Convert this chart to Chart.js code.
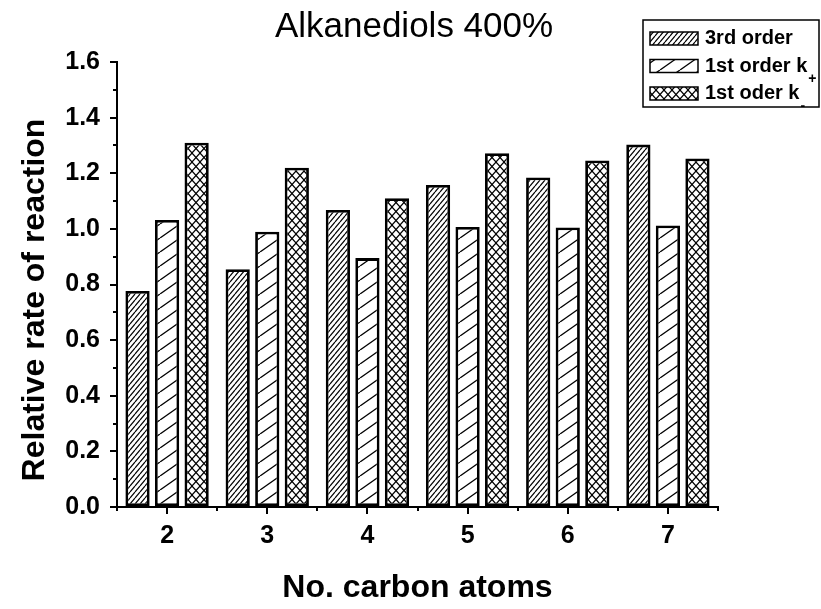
<!DOCTYPE html>
<html>
<head>
<meta charset="utf-8">
<script src="https://cdn.jsdelivr.net/npm/chart.js@4.4.1/dist/chart.umd.min.js"></script>
<style>
  html, body { margin: 0; padding: 0; background: #fff; }
  canvas { display: block; }
</style>
</head>
<body>
<canvas id="c" width="821" height="609"></canvas>
<script>
// ---- data ----
const categories = ['2', '3', '4', '5', '6', '7'];
const thirdOrder = [0.777, 0.855, 1.068, 1.158, 1.185, 1.303];
const firstOrderKPlus = [1.032, 0.99, 0.895, 1.007, 1.005, 1.012];
const firstOrderKMinus = [1.31, 1.22, 1.11, 1.272, 1.246, 1.253];
const seriesLabels = ['3rd order', '1st order k', '1st oder k'];
const seriesSubscripts = ['', '+', '-'];
const yTickValues = [0, 0.2, 0.4, 0.6, 0.8, 1.0, 1.2, 1.4, 1.6];
const yMinorValues = [0.1, 0.3, 0.5, 0.7, 0.9, 1.1, 1.3, 1.5];
const titleText = 'Alkanediols 400%';
const xTitle = 'No. carbon atoms';
const yTitle = 'Relative rate of reaction';

const FONT = '"Liberation Sans", Arial, sans-serif';

function makePattern(kind) {
  const c = document.createElement('canvas');
  let w, h, lw;
  if (kind === 'dense') { w = 5; h = 6; lw = 1.2; }
  else if (kind === 'sparse') { w = 20; h = 14; lw = 1.3; }
  else { w = 8; h = 9; lw = 1.2; }
  c.width = w; c.height = h;
  const g = c.getContext('2d');
  g.fillStyle = '#fff'; g.fillRect(0, 0, w, h);
  g.strokeStyle = '#000'; g.lineWidth = lw;
  for (let i = -1; i <= 1; i++) {
    g.beginPath(); g.moveTo(i * w, h); g.lineTo(i * w + w, 0); g.stroke();
    if (kind === 'cross') {
      g.beginPath(); g.moveTo(i * w, 0); g.lineTo(i * w + w, h); g.stroke();
    }
  }
  return g.createPattern(c, 'repeat');
}
const patterns = [makePattern('dense'), makePattern('sparse'), makePattern('cross')];

const extras = {
  id: 'extras',
  afterDraw(chart) {
    const ctx = chart.ctx;
    const xs = chart.scales.x, ys = chart.scales.y;
    const area = chart.chartArea;
    ctx.save();
    ctx.strokeStyle = '#000';
    ctx.lineWidth = 2;
    // y minor ticks
    yMinorValues.forEach(v => {
      const y = Math.round(ys.getPixelForValue(v));
      ctx.beginPath(); ctx.moveTo(area.left, y); ctx.lineTo(area.left - 4, y); ctx.stroke();
    });
    // x minor ticks at category boundaries
    for (let i = 0; i <= categories.length; i++) {
      const x = Math.round(xs.getPixelForValue(i - 0.5));
      ctx.beginPath(); ctx.moveTo(x, area.bottom); ctx.lineTo(x, area.bottom + 4); ctx.stroke();
    }
    ctx.fillStyle = '#000';
    // title
    ctx.font = '35px ' + FONT;
    ctx.textAlign = 'center'; ctx.textBaseline = 'alphabetic';
    ctx.fillText(titleText, 414, 37);
    // x title
    ctx.font = 'bold 32px ' + FONT;
    ctx.fillText(xTitle, (area.left + area.right) / 2, 597);
    // y title
    ctx.save();
    ctx.translate(44, 300);
    ctx.rotate(-Math.PI / 2);
    ctx.textBaseline = 'alphabetic';
    ctx.fillText(yTitle, 0, 0);
    ctx.restore();

    // legend
    const lx = 643, ly = 20, lw = 176, lh = 87;
    ctx.fillStyle = '#fff';
    ctx.fillRect(lx, ly, lw, lh);
    ctx.lineWidth = 1.5;
    ctx.strokeRect(lx, ly, lw, lh);
    const rows = [38.5, 66, 93.5];
    chart.data.datasets.forEach((ds, i) => {
      const cy = rows[i];
      ctx.fillStyle = ds.backgroundColor;
      ctx.fillRect(650, cy - 6.5, 48, 13);
      ctx.lineWidth = 1.5;
      ctx.strokeStyle = '#000';
      ctx.strokeRect(650, cy - 6.5, 48, 13);
      ctx.fillStyle = '#000';
      ctx.font = 'bold 20px ' + FONT;
      ctx.textAlign = 'left'; ctx.textBaseline = 'middle';
      ctx.fillText(seriesLabels[i], 705, cy);
      if (seriesSubscripts[i]) {
        const w = ctx.measureText(seriesLabels[i]).width;
        ctx.font = 'bold 14px ' + FONT;
        ctx.fillText(seriesSubscripts[i], 705 + w + 1, cy + 13);
      }
    });
    ctx.restore();
  }
};

new Chart(document.getElementById('c'), {
  type: 'bar',
  data: {
    labels: categories,
    datasets: [
      { label: seriesLabels[0] + seriesSubscripts[0], data: thirdOrder, backgroundColor: patterns[0] },
      { label: seriesLabels[1] + seriesSubscripts[1], data: firstOrderKPlus, backgroundColor: patterns[1] },
      { label: seriesLabels[2] + seriesSubscripts[2], data: firstOrderKMinus, backgroundColor: patterns[2] }
    ].map(d => Object.assign(d, {
      borderColor: '#000', borderWidth: 2.8, borderSkipped: false,
      categoryPercentage: 0.885, barPercentage: 0.82
    }))
  },
  options: {
    responsive: false,
    animation: false,
    layout: { padding: { top: 62, right: 103, bottom: 0, left: 0 } },
    plugins: { legend: { display: false }, tooltip: { enabled: false }, title: { display: false } },
    scales: {
      x: {
        type: 'category',
        offset: true,
        grid: { display: true, offset: false, drawOnChartArea: false, drawTicks: true, tickLength: 7, color: '#000', lineWidth: 2 },
        border: { display: true, color: '#000', width: 2 },
        ticks: { color: '#000', font: { family: FONT, size: 25, weight: 'bold' }, padding: 7, maxRotation: 0 },
        afterFit(s) { s.height = 102; }
      },
      y: {
        min: 0, max: 1.6,
        afterBuildTicks(s) { s.ticks = yTickValues.map(v => ({ value: v })); },
        grid: { display: true, drawOnChartArea: false, drawTicks: true, tickLength: 7, color: '#000', lineWidth: 2 },
        border: { display: true, color: '#000', width: 2 },
        ticks: { color: '#000', font: { family: FONT, size: 25, weight: 'bold' }, padding: 10, callback: v => Number(v).toFixed(1) },
        afterFit(s) { s.width = 117; }
      }
    }
  },
  plugins: [extras]
});
</script>
</body>
</html>
